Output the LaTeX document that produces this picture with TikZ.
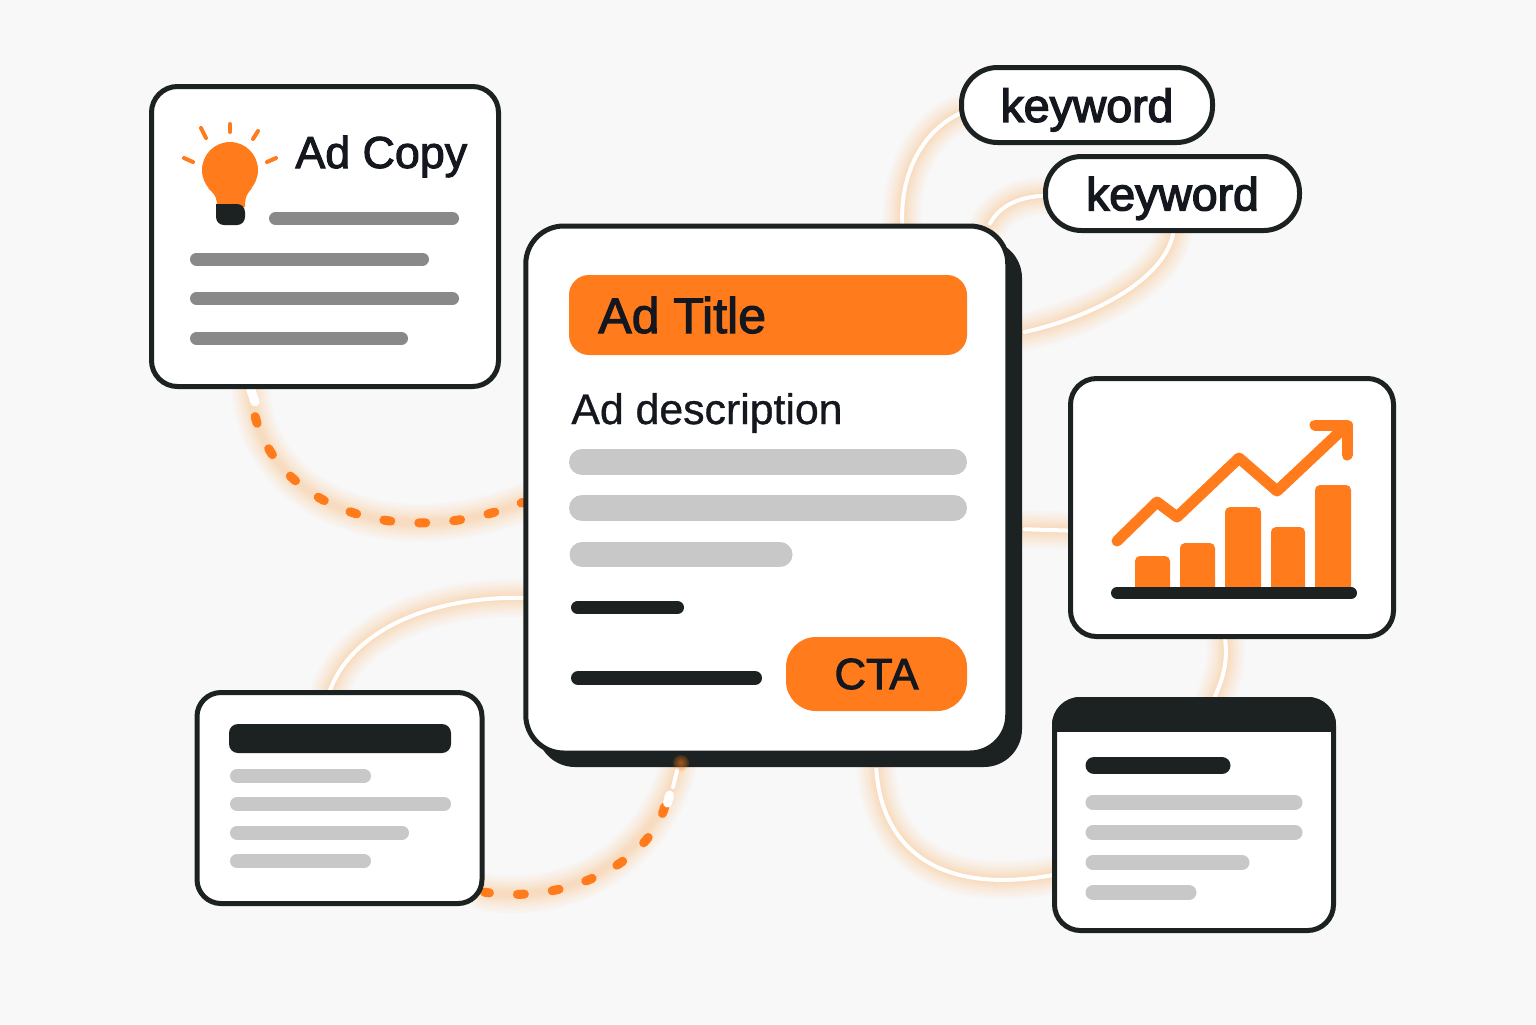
\documentclass[tikz,border=0pt]{standalone}
\usepackage{fontspec}
\setmainfont{Liberation Sans}
\newfontfamily\LightFont[RawFeature={embolden=0.8}]{Liberation Sans}
\newfontfamily\MedFont[RawFeature={embolden=2.2}]{Liberation Sans}
\newfontfamily\HeavyFont[RawFeature={embolden=3}]{Liberation Sans}
\usepackage{xcolor}
\definecolor{Col1}{RGB}{255,123,27}
\definecolor{Col2}{RGB}{28,34,34}
\definecolor{Col3}{RGB}{200,200,201}
\definecolor{Col4}{RGB}{136,137,136}
\definecolor{Col5}{RGB}{20,24,30}
\definecolor{Col6}{RGB}{248,248,248}
\definecolor{Col7}{RGB}{255,170,80}
\pgfdeclarelayer{back}
\pgfsetlayers{back,main}
\tikzstyle{Card}=[draw=Col2,fill=white,line width=2.5pt,inner sep=0pt,rounded corners=13pt]
\tikzstyle{Pill}=[Card,rounded corners=18pt,text=Col5,text depth=0pt,font=\HeavyFont\fontsize{23.2}{28}\selectfont]
\tikzstyle{OrangeBox}=[fill=Col1,inner sep=0pt]
\tikzstyle{Label}=[inner sep=0pt,anchor=base west,text=Col5]
\tikzstyle{Edge}=[draw=white,line width=2pt,line cap=round]
\tikzstyle{EdgeGlow}=[draw=Col7,opacity=.04,line cap=round]
\tikzstyle{DashEdge}=[draw=Col1,line width=4.5pt,line cap=round,dash pattern=on 3.5pt off 14pt]
\tikzstyle{WhiteDash}=[draw=white,line width=4.5pt,line cap=round]
\tikzstyle{GreyBar}=[draw=Col3,line cap=round]
\tikzstyle{MidBar}=[draw=Col4,line width=6.5pt,line cap=round]
\tikzstyle{DarkBar}=[draw=Col2,line cap=round]
\tikzstyle{Ray}=[draw=Col1,line width=2pt,line cap=round]
\tikzstyle{Trend}=[draw=Col1,line width=5.5pt,line cap=round,line join=round]
\newcommand{\GlowPath}[1]{%
    \foreach \w in {38,33,28,24,20,16,13,10,7}{\draw[EdgeGlow,line width=\w*0.5pt]#1;}}

\begin{document}
\begin{tikzpicture}[x=0.5pt,y=-0.5pt]
        \useasboundingbox(0,0)rectangle(1536,1024);
        % cards
        \node[Card,minimum width=173.5pt,minimum height=150pt](adcopy)at(325,236.5){};
        \node[Card,draw=none,fill=Col2,minimum width=242.5pt,minimum height=263.5pt,rounded corners=19pt](mainshadow)at(779.5,503.5){};
        \node[Card,minimum width=241pt,minimum height=263.5pt,rounded corners=19pt](main)at(766.75,489.5){};
        \node[Card,minimum width=142.5pt,minimum height=105.5pt,rounded corners=12pt](form)at(339.5,798){};
        \node[Card,minimum width=161.5pt,minimum height=129pt](chart)at(1232,507.5){};
        \node[Card,minimum width=139.5pt,minimum height=115.5pt](page)at(1194,815){};
        \node[Pill,minimum width=125.5pt,minimum height=37.5pt](kwone)at(1087,105){keyword};
        \node[Pill,minimum width=127pt,minimum height=37pt](kwtwo)at(1172.5,193.5){keyword};
        % main card
        \node[OrangeBox,minimum width=199pt,minimum height=40pt,rounded corners=10pt](title)at(768,315){};
        \node[Label,font=\MedFont\fontsize{25}{30}\selectfont](titletext)at(598,333){Ad Title};
        \node[Label,font=\LightFont\fontsize{21.4}{26}\selectfont](desc)at(571,424){Ad description};
        \draw[GreyBar,line width=13pt](582,462)--(954,462);
        \draw[GreyBar,line width=13pt](582,508)--(954,508);
        \draw[GreyBar,line width=12.5pt](582,554.5)--(780,554.5);
        \draw[DarkBar,line width=6.5pt](577.5,607.5)--(677.5,607.5);
        \draw[DarkBar,line width=7pt](578,678)--(755,678);
        \node[OrangeBox,minimum width=90.5pt,minimum height=37pt,rounded corners=15pt,text=Col5,
            font=\MedFont\fontsize{21.8}{26}\selectfont](cta)at(876.5,674){CTA};
        % ad copy card
        \fill[Col1](230,170)circle(28);
        \fill[Col1](208,188)..controls(217,196)and(217,200)..(217,207)--(245,207)..controls(245,200)and(245,196)..(252,188)--cycle;
        \fill[Col2,rounded corners=4pt](216,204)--(216,225)--(245,225)--(245,204)[sharp corners]--cycle;
        \draw[Ray](230,124)--(230,132);
        \draw[Ray](201,128)--(206,138);
        \draw[Ray](258,131)--(253,139);
        \draw[Ray](184,158)--(193,162);
        \draw[Ray](276,158)--(267,162);
        \node[Label,font=\MedFont\fontsize{22.4}{27}\selectfont](copytext)at(295,168){Ad Copy};
        \draw[MidBar](275.5,218.5)--(452.5,218.5);
        \draw[MidBar](196.5,259)--(422.5,259);
        \draw[MidBar](196.5,298.5)--(452.5,298.5);
        \draw[MidBar](196.5,338.5)--(401.5,338.5);
        % chart card
        \foreach \a/\b/\t in {1135/1170/556,1180/1215/543,1225/1261/507,1271/1305/527,1315/1351/485}{
            \fill[Col1,rounded corners=2.5pt](\a,592)--(\a,\t)--(\b,\t)--(\b,592)--cycle;}
        \draw[DarkBar,line width=6pt](1117,593)--(1351,593);
        \draw[Trend](1117,541)--(1157,502)--(1177,517)--(1239,458)--(1277,491)--(1345,427);
        \draw[Trend](1315,425)--(1347,425)--(1347,455);
        % form card
        \fill[Col2,rounded corners=4.5pt](229,724)rectangle(451,753);
        \draw[GreyBar,line width=7pt](237,776)--(364,776);
        \draw[GreyBar,line width=7pt](237,804)--(444,804);
        \draw[GreyBar,line width=7pt](237,832.5)--(402,832.5);
        \draw[GreyBar,line width=7pt](237,861)--(364,861);
        % page card
        \begin{scope}
            \clip[rounded corners=14pt](1052,697)rectangle(1336,950);
            \fill[Col2](1052,697)rectangle(1336,732);
        \end{scope}
        \draw[DarkBar,line width=8.5pt](1094,765.5)--(1222,765.5);
        \draw[GreyBar,line width=7.5pt](1093,802.5)--(1295,802.5);
        \draw[GreyBar,line width=7.5pt](1093,832.5)--(1295,832.5);
        \draw[GreyBar,line width=7.5pt](1093,862.5)--(1242,862.5);
        \draw[GreyBar,line width=7.5pt](1093,892.5)--(1189,892.5);
        % connectors
        \coordinate(copytip)at(255,402);
        \coordinate(ctatip)at(665,806);
        \begin{pgfonlayer}{back}
            \fill[Col6](0,0)rectangle(1536,1024);
            \GlowPath{(adcopy.244.7)..controls(258,503)and(392,555)..(main.183)}
            \GlowPath{(form.-33)..controls(570,905)and(650,860)..(mainshadow.249.5)}
            \GlowPath{(kwone.184.5)..controls(925,130)and(900,170)..(main.63.1)}
            \GlowPath{(kwtwo.181.5)..controls(1020,197)and(1000,205)..(main.50.4)}
            \GlowPath{(kwtwo.271)..controls(1165,280)and(1090,318)..(mainshadow.35.5)}
            \GlowPath{(mainshadow.-6.7)--(chart.188.5)}
            \GlowPath{(chart.267.8)..controls(1228,665)and(1222,680)..(page.80)}
            \GlowPath{(main.204.6)..controls(440,596)and(355,625)..(form.95)}
            \GlowPath{(mainshadow.290.8)..controls(882,850)and(940,895)..(page.203.9)}
            \draw[Edge](kwone.184.5)..controls(925,130)and(900,170)..(main.63.1);
            \draw[Edge](kwtwo.181.5)..controls(1020,197)and(1000,205)..(main.50.4);
            \draw[Edge](kwtwo.271)..controls(1165,280)and(1090,318)..(mainshadow.35.5);
            \draw[Edge](mainshadow.-6.7)--(chart.188.5);
            \draw[Edge](chart.267.8)..controls(1228,665)and(1222,680)..(page.80);
            \draw[Edge](main.204.6)..controls(440,596)and(355,625)..(form.95);
            \draw[Edge](mainshadow.290.8)..controls(882,850)and(940,895)..(page.203.9);
            \draw[DashEdge,dash phase=3.5pt](adcopy.244.7)..controls(258,503)and(392,555)..(main.183);
            \draw[DashEdge,dash phase=1pt](form.-33)..controls(570,905)and(650,860)..(ctatip);
            \draw[WhiteDash](adcopy.244.7)--(copytip);
            \draw[WhiteDash](667.5,803)--(669.5,795);
            \draw[Edge](mainshadow.249.5)--(673,787);
        \end{pgfonlayer}
        \foreach \r in {8,6,4,2}{\fill[Col1,opacity=.18](681,763)circle(\r);}
    \end{tikzpicture}
\end{document}
